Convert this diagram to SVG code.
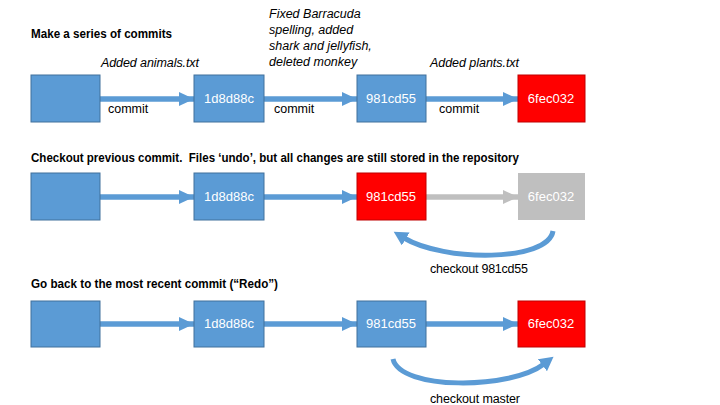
<svg xmlns="http://www.w3.org/2000/svg" width="720" height="405" viewBox="0 0 720 405">
<style>
text{font-family:"Liberation Sans",Arial,sans-serif;font-size:12.5px;fill:#000}
.h{font-weight:bold;font-size:12.3px}
.i{font-style:italic}
.n{fill:#fff;font-size:13px;text-anchor:middle}
.blue{fill:#5B9BD5;stroke:#41719C;stroke-width:1}
.red{fill:#FF0000;stroke:#C00000;stroke-width:1}
.gray{fill:#BFBFBF;stroke:none}
.a{stroke:#5B9BD5;stroke-width:5.5;fill:none}
.ag{stroke:#BFBFBF;stroke-width:5.5;fill:none}
.c{stroke:#5B9BD5;stroke-width:5;fill:none}
</style>
<defs>
<marker id="mb" markerUnits="userSpaceOnUse" markerWidth="16" markerHeight="16" refX="15" refY="7" orient="auto"><path d="M0,0 L15,7 L0,14 z" fill="#5B9BD5"/></marker>
<marker id="mg" markerUnits="userSpaceOnUse" markerWidth="16" markerHeight="16" refX="15" refY="7" orient="auto"><path d="M0,0 L15,7 L0,14 z" fill="#BFBFBF"/></marker>
<marker id="mc" markerUnits="userSpaceOnUse" markerWidth="18" markerHeight="18" refX="2" refY="7.5" orient="auto"><path d="M0,0 L14,7.5 L0,15 z" fill="#5B9BD5"/></marker>
</defs>

<text class="h" x="31" y="38" textLength="141" lengthAdjust="spacingAndGlyphs">Make a series of commits</text>
<text class="h" x="31" y="162" textLength="488" lengthAdjust="spacingAndGlyphs" xml:space="preserve">Checkout previous commit.  Files ‘undo’, but all changes are still stored in the repository</text>
<text class="h" x="31" y="288" textLength="247" lengthAdjust="spacingAndGlyphs">Go back to the most recent commit (“Redo”)</text>

<text class="i" x="101" y="67" textLength="98">Added animals.txt</text>
<text class="i" x="269" y="18">Fixed Barracuda</text>
<text class="i" x="269" y="34">spelling, added</text>
<text class="i" x="269" y="50">shark and jellyfish,</text>
<text class="i" x="269" y="66">deleted monkey</text>
<text class="i" x="430" y="67" textLength="89">Added plants.txt</text>

<g id="connectors">
<line class="a" x1="100" y1="99" x2="194" y2="99" marker-end="url(#mb)"/>
<line class="a" x1="264" y1="99" x2="357" y2="99" marker-end="url(#mb)"/>
<line class="a" x1="426" y1="99" x2="518" y2="99" marker-end="url(#mb)"/>
<line class="a" x1="100" y1="197" x2="194" y2="197" marker-end="url(#mb)"/>
<line class="a" x1="264" y1="197" x2="357" y2="197" marker-end="url(#mb)"/>
<line class="ag" x1="426" y1="197" x2="518" y2="197" marker-end="url(#mg)"/>
<line class="a" x1="100" y1="324" x2="194" y2="324" marker-end="url(#mb)"/>
<line class="a" x1="264" y1="324" x2="357" y2="324" marker-end="url(#mb)"/>
<line class="a" x1="426" y1="324" x2="518" y2="324" marker-end="url(#mb)"/>
<path class="c" d="M553,231 C548,262 444,262 404,238" marker-end="url(#mc)"/>
<path class="c" d="M393,359 C400,390 510,390 544,364" marker-end="url(#mc)"/>
<text x="108" y="113">commit</text>
<text x="274" y="113">commit</text>
<text x="439" y="113">commit</text>
<text x="430" y="273" textLength="98">checkout 981cd55</text>
<text x="430" y="403" textLength="90">checkout master</text>
</g>

<g id="r1n0"><rect class="blue" x="31" y="75" width="69" height="47"/></g>
<g id="r1n1"><rect class="blue" x="194" y="75" width="70" height="47"/><text class="n" x="229" y="103">1d8d88c</text></g>
<g id="r1n2"><rect class="blue" x="357" y="75" width="69" height="47"/><text class="n" x="391" y="103">981cd55</text></g>
<g id="r1n3"><rect class="red" x="518" y="75" width="67" height="47"/><text class="n" x="551" y="103">6fec032</text></g>

<g id="r2n0"><rect class="blue" x="31" y="173" width="69" height="47"/></g>
<g id="r2n1"><rect class="blue" x="194" y="173" width="70" height="47"/><text class="n" x="229" y="201">1d8d88c</text></g>
<g id="r2n2"><rect class="red" x="357" y="173" width="69" height="47"/><text class="n" x="391" y="201">981cd55</text></g>
<g id="r2n3"><rect class="gray" x="518" y="173" width="67" height="47"/><text class="n" x="551" y="201">6fec032</text></g>

<g id="r3n0"><rect class="blue" x="31" y="301" width="69" height="46"/></g>
<g id="r3n1"><rect class="blue" x="194" y="301" width="70" height="46"/><text class="n" x="229" y="328">1d8d88c</text></g>
<g id="r3n2"><rect class="blue" x="357" y="301" width="69" height="46"/><text class="n" x="391" y="328">981cd55</text></g>
<g id="r3n3"><rect class="red" x="518" y="301" width="67" height="46"/><text class="n" x="551" y="328">6fec032</text></g>
</svg>
